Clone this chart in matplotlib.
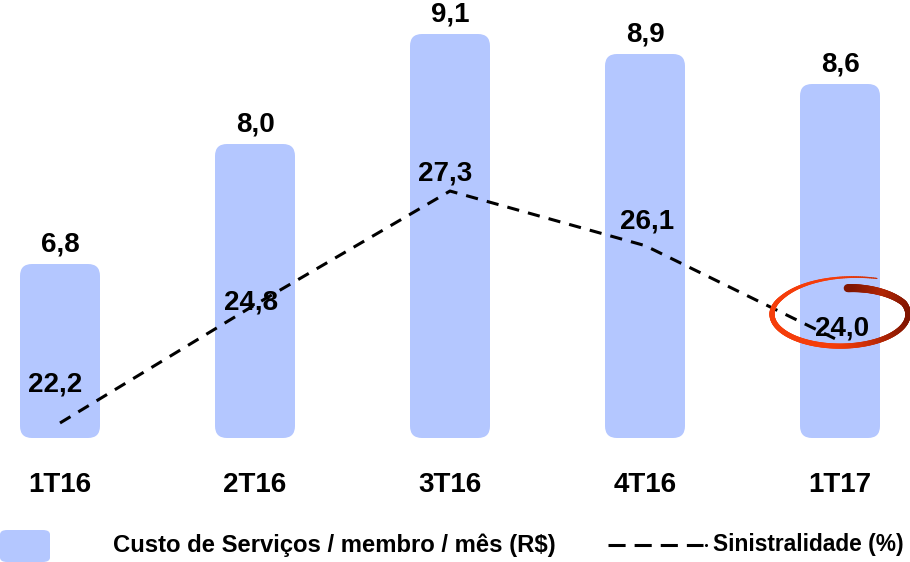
import numpy as np
import matplotlib
matplotlib.use("Agg")
import matplotlib.pyplot as plt
from matplotlib.patches import FancyBboxPatch
from matplotlib.collections import LineCollection
from matplotlib.lines import Line2D

plt.rcParams['font.family'] = ['Liberation Sans', 'DejaVu Sans']

# ---- data ----
categories = ["1T16", "2T16", "3T16", "4T16", "1T17"]
custo = [6.8, 8.0, 9.1, 8.9, 8.6]
sinistralidade = [22.2, 24.8, 27.3, 26.1, 24.0]
custo_labels = ["6,8", "8,0", "9,1", "8,9", "8,6"]
sin_labels = ["22,2", "24,8", "27,3", "26,1", "24,0"]
legend_bar = "Custo de Serviços / membro / mês (R$)"
legend_line = "Sinistralidade (%)"

# ---- layout ----
W, H, DPI = 910, 562, 100
BAR_COLOR = "#b4c7ff"
ax_bottom_px = 438
x0_px, step_px = 60, 195
fig = plt.figure(figsize=(W / DPI, H / DPI), dpi=DPI)
ax = fig.add_axes([0, (H - ax_bottom_px) / H, 1, ax_bottom_px / H])
ax.set_xlim(-x0_px / step_px, (W - x0_px) / step_px)
ax.set_ylim(5.06, 9.44)
ax2 = ax.twinx()
ax2.set_ylim(21.87, 31.50)
for a in (ax, ax2):
    a.axis('off')

x = np.arange(len(categories))
base = ax.get_ylim()[0]
bw = 80 / step_px
px_per_x = W / (ax.get_xlim()[1] - ax.get_xlim()[0])
px_per_y = ax_bottom_px / (ax.get_ylim()[1] - ax.get_ylim()[0])
aspect = px_per_x / px_per_y
rad = 12 / px_per_x

bars = ax.bar(x, np.array(custo) - base, bottom=base, width=bw, color=BAR_COLOR)
for r in bars:
    r.set_visible(False)
    p = FancyBboxPatch((r.get_x(), r.get_y()), r.get_width(), r.get_height(),
                       boxstyle=f"round,pad=0,rounding_size={rad}",
                       mutation_aspect=aspect, facecolor=BAR_COLOR,
                       edgecolor='none', zorder=1)
    ax.add_patch(p)

for xi, v, lab in zip(x, custo, custo_labels):
    ax.annotate(lab, (xi, v), xytext=(0, 19), textcoords='offset pixels',
                ha='center', va='center', fontsize=20, fontweight='bold')

# category labels
for xi, c in zip(x, categories):
    ax.text(xi, -(485 - ax_bottom_px) / ax_bottom_px, c,
            transform=ax.get_xaxis_transform(), ha='center', va='center',
            fontsize=20, fontweight='bold')

# line
ax2.plot(x, sinistralidade, color='black', lw=2.2, ls=(0, (4, 3)), zorder=3)
lab_offsets = [(-5, 38), (-4, 2), (-5, 18), (2, 24), (2, 13)]
for xi, v, lab, off in zip(x, sinistralidade, sin_labels, lab_offsets):
    ax2.annotate(lab, (xi, v), xytext=off, textcoords='offset pixels',
                 ha='center', va='center', fontsize=20, fontweight='bold', zorder=4)

# hand-drawn red ellipse around the last value label
fig.canvas.draw()
cx, cy = ax2.transData.transform((x[-1], sinistralidade[-1]))
cy += 27
a_px, b_px = 68, 32
th = np.linspace(np.deg2rad(64), np.deg2rad(442), 300)
deg = np.rad2deg(th)
r = np.ones_like(th)
r = np.where(deg < 150, 1.0 + 0.24 * ((150 - deg) / 86) ** 1.5, r)
r = np.where(deg > 380, 1.0 - 0.18 * ((deg - 380) / 62), r)
px = cx + a_px * r * np.cos(th)
py = cy + b_px * r * np.sin(th)
pts = np.column_stack([px, py])
segs = np.stack([pts[:-1], pts[1:]], axis=1)
t = (deg[:-1] - 64) / (442 - 64)
lw = 1.2 + 4.0 * np.clip(t / 0.3, 0, 1) + 3.0 * np.clip((t - 0.75) / 0.25, 0, 1)
c1 = np.array([0.96, 0.24, 0.04])
c2 = np.array([0.50, 0.08, 0.0])
mix = np.clip((np.cos(th[:-1]) + 0.1) / 1.1, 0, 1) ** 1.4
mix = np.maximum(mix, np.clip((t - 0.8) / 0.2, 0, 1))
cols = c1[None, :] * (1 - mix[:, None]) + c2[None, :] * mix[:, None]
lc = LineCollection(segs, colors=cols, linewidths=lw * 72 / DPI,
                    capstyle='round', transform=None, zorder=5)
fig.add_artist(lc)

# legend
fig.add_artist(FancyBboxPatch((0 / W, (H - 562) / H), 50 / W, 32 / H,
                              boxstyle="round,pad=0,rounding_size=0.008",
                              transform=fig.transFigure, facecolor=BAR_COLOR,
                              edgecolor='none'))
fig.text(113 / W, 1 - 545 / H, legend_bar, ha='left', va='center',
         fontsize=17.2, fontweight='bold')
fig.add_artist(Line2D([608 / W, 703 / W], [1 - 545 / H] * 2, color='black',
                      lw=2.2, ls=(0, (5.6, 2.95)), transform=fig.transFigure))
fig.add_artist(Line2D([706 / W], [1 - 545 / H], color='black', marker='o',
                      ms=1.2, lw=0, transform=fig.transFigure))
fig.text(713 / W, 1 - 545 / H, legend_line, ha='left', va='center',
         fontsize=16.4, fontweight='bold')

fig.savefig("out.png", dpi=DPI)
